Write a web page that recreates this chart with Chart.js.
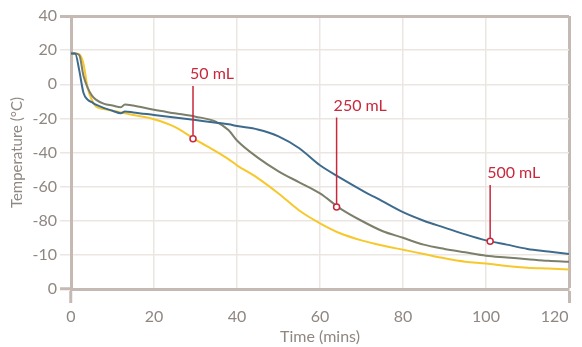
<!DOCTYPE html>
<html>
<head>
<meta charset="utf-8">
<script src="https://cdn.jsdelivr.net/npm/chart.js@4/dist/chart.umd.min.js"></script>
<style>
  html, body { margin: 0; padding: 0; background: #fff; }
  #box { width: 582px; height: 347px; }
</style>
</head>
<body>
<div id="box"><canvas id="myChart"></canvas></div>
<script>
// data
const timeMins = [0, 1, 2, 3, 4, 5, 6, 8, 10, 12, 13, 15, 20, 25, 30, 35, 38, 40, 45, 50, 55, 60, 65, 70, 75, 80, 85, 90, 95, 100, 105, 110, 115, 120];
const blueTemps = [18, 18, 8, -5, -9, -10.5, -12, -14, -15.5, -17, -16, -16.5, -18, -19.5, -21, -22.5, -23.5, -24.5, -26.5, -30.5, -37.5, -47.5, -55, -62, -68.5, -75, -80, -84, -88, -91.5, -94, -96.5, -98, -99.5];
const oliveTemps = [18, 18, 17, 5, -2, -6.5, -9, -11.5, -12.5, -13.5, -11.8, -12.5, -15, -17, -19, -22, -27, -33, -43, -51, -57.5, -64, -73, -80, -86, -90, -94, -96.5, -98.5, -100.5, -101.5, -102.5, -103.5, -104];
const yellowTemps = [18, 18, 17.5, 12, -2, -9, -13, -14.5, -15.5, -16.5, -17, -18, -20.5, -25, -32.5, -39.5, -44, -47.5, -55, -64, -74, -81.5, -87.5, -91.5, -94.5, -97, -99.5, -102, -104, -105, -106.5, -107.5, -108, -108.5];

const markerLabels = ["50 mL", "250 mL", "500 mL"];
const markerTimes = [29.4, 64, 101];
const markerTemps = [-32, -72, -92];
const markerLabelAt = [-1, -19.5, -59];

const xTicks = [0, 20, 40, 60, 80, 100, 120];
const yTicks = [40, 20, 0, -20, -40, -60, -80, -100, -120];
const yTickLabels = ["40", "20", "0", "-20", "-40", "-60", "-80", "-10", "0"];

const borderCol = "#c5bab3";
const gridCol = "#ebe6e2";
const textCol = "#8f8782";
const markCol = "#c8283c";

const toPoints = (vals) => vals.map((v, i) => ({ x: timeMins[i], y: v }));

const markerPlugin = {
	id: "volumeMarkers",
	afterDatasetsDraw(chart) {
		const ctx = chart.ctx;
		const xs = chart.scales.x;
		const ys = chart.scales.y;
		ctx.save();
		markerLabels.forEach((label, i) => {
			const px = xs.getPixelForValue(markerTimes[i]);
			const py = ys.getPixelForValue(markerTemps[i]);
			const top = ys.getPixelForValue(markerLabelAt[i]);
			ctx.strokeStyle = markCol;
			ctx.lineWidth = 1.5;
			ctx.beginPath();
			ctx.moveTo(px, top);
			ctx.lineTo(px, py - 3);
			ctx.stroke();
			ctx.beginPath();
			ctx.arc(px, py, 3, 0, Math.PI * 2);
			ctx.fillStyle = "#fff";
			ctx.fill();
			ctx.stroke();
			ctx.fillStyle = markCol;
			ctx.font = "16px Lato";
			ctx.textAlign = "left";
			ctx.textBaseline = "alphabetic";
			ctx.fillText(label, px - 3, top - 7);
		});
		ctx.restore();
	}
};

const isEdge = (ctx, arr) => ctx.tick && (ctx.tick.value === arr[0] || ctx.tick.value === arr[arr.length - 1]);

const lineSet = (label, vals, color) => ({
	label: label,
	data: toPoints(vals),
	borderColor: color,
	borderWidth: 2,
	pointRadius: 0,
	fill: false,
	cubicInterpolationMode: "monotone"
});

new Chart(document.getElementById("myChart"), {
	type: "line",
	data: {
		datasets: [
			lineSet("Blue", blueTemps, "#3e6b8c"),
			lineSet("Olive", oliveTemps, "#7c7f6a"),
			lineSet("Yellow", yellowTemps, "#f7c82c")
		]
	},
	plugins: [markerPlugin],
	options: {
		responsive: true,
		maintainAspectRatio: false,
		animation: false,
		layout: { padding: { top: 16, right: 13, left: 0, bottom: 0 } },
		plugins: { legend: { display: false }, tooltip: { enabled: false } },
		scales: {
			x: {
				type: "linear",
				min: 0,
				max: 120,
				afterBuildTicks: (scale) => { scale.ticks = xTicks.map((v) => ({ value: v })); },
				afterFit: (scale) => {
					scale.height = 58;
					scale.paddingLeft = 0;
					scale.paddingRight = 0;
				},
				ticks: {
					color: textCol,
					font: { family: "Lato", size: 16 },
					padding: 4,
					maxRotation: 0,
					// last label sits inside the canvas edge
					callback: (v) => (v === 120 ? "120       " : String(v))
				},
				grid: {
					color: (ctx) => (ctx.tick && ctx.tick.value === 120 ? borderCol : gridCol),
					lineWidth: (ctx) => (ctx.tick && ctx.tick.value === 120 ? 3 : 1.5),
					tickColor: (ctx) => (isEdge(ctx, xTicks) ? borderCol : "rgba(0,0,0,0)"),
					tickWidth: 3,
					tickLength: 14
				},
				border: { display: true, color: borderCol, width: 3 },
				title: { display: true, text: "Time (mins)", color: textCol, font: { family: "Lato", size: 16 }, padding: { top: 0, bottom: 1 } }
			},
			y: {
				min: -120,
				max: 40,
				afterBuildTicks: (scale) => { scale.ticks = yTicks.map((v) => ({ value: v })); },
				afterFit: (scale) => { scale.width = 71; },
				ticks: {
					color: textCol,
					font: { family: "Lato", size: 16 },
					padding: 3,
					callback: (v) => yTickLabels[yTicks.indexOf(v)]
				},
				grid: {
					color: (ctx) => (ctx.tick && ctx.tick.value === 40 ? borderCol : gridCol),
					lineWidth: (ctx) => (ctx.tick && ctx.tick.value === 40 ? 3 : 1.5),
					tickColor: (ctx) => (isEdge(ctx, yTicks) ? borderCol : gridCol),
					tickWidth: (ctx) => (isEdge(ctx, yTicks) ? 3 : 1.5),
					tickLength: 11
				},
				border: { display: true, color: borderCol, width: 3 },
				title: { display: true, text: "Temperature (°C)", color: textCol, font: { family: "Lato", size: 15 }, padding: { top: 8, bottom: 0 } }
			}
		}
	}
});
</script>
</body>
</html>
